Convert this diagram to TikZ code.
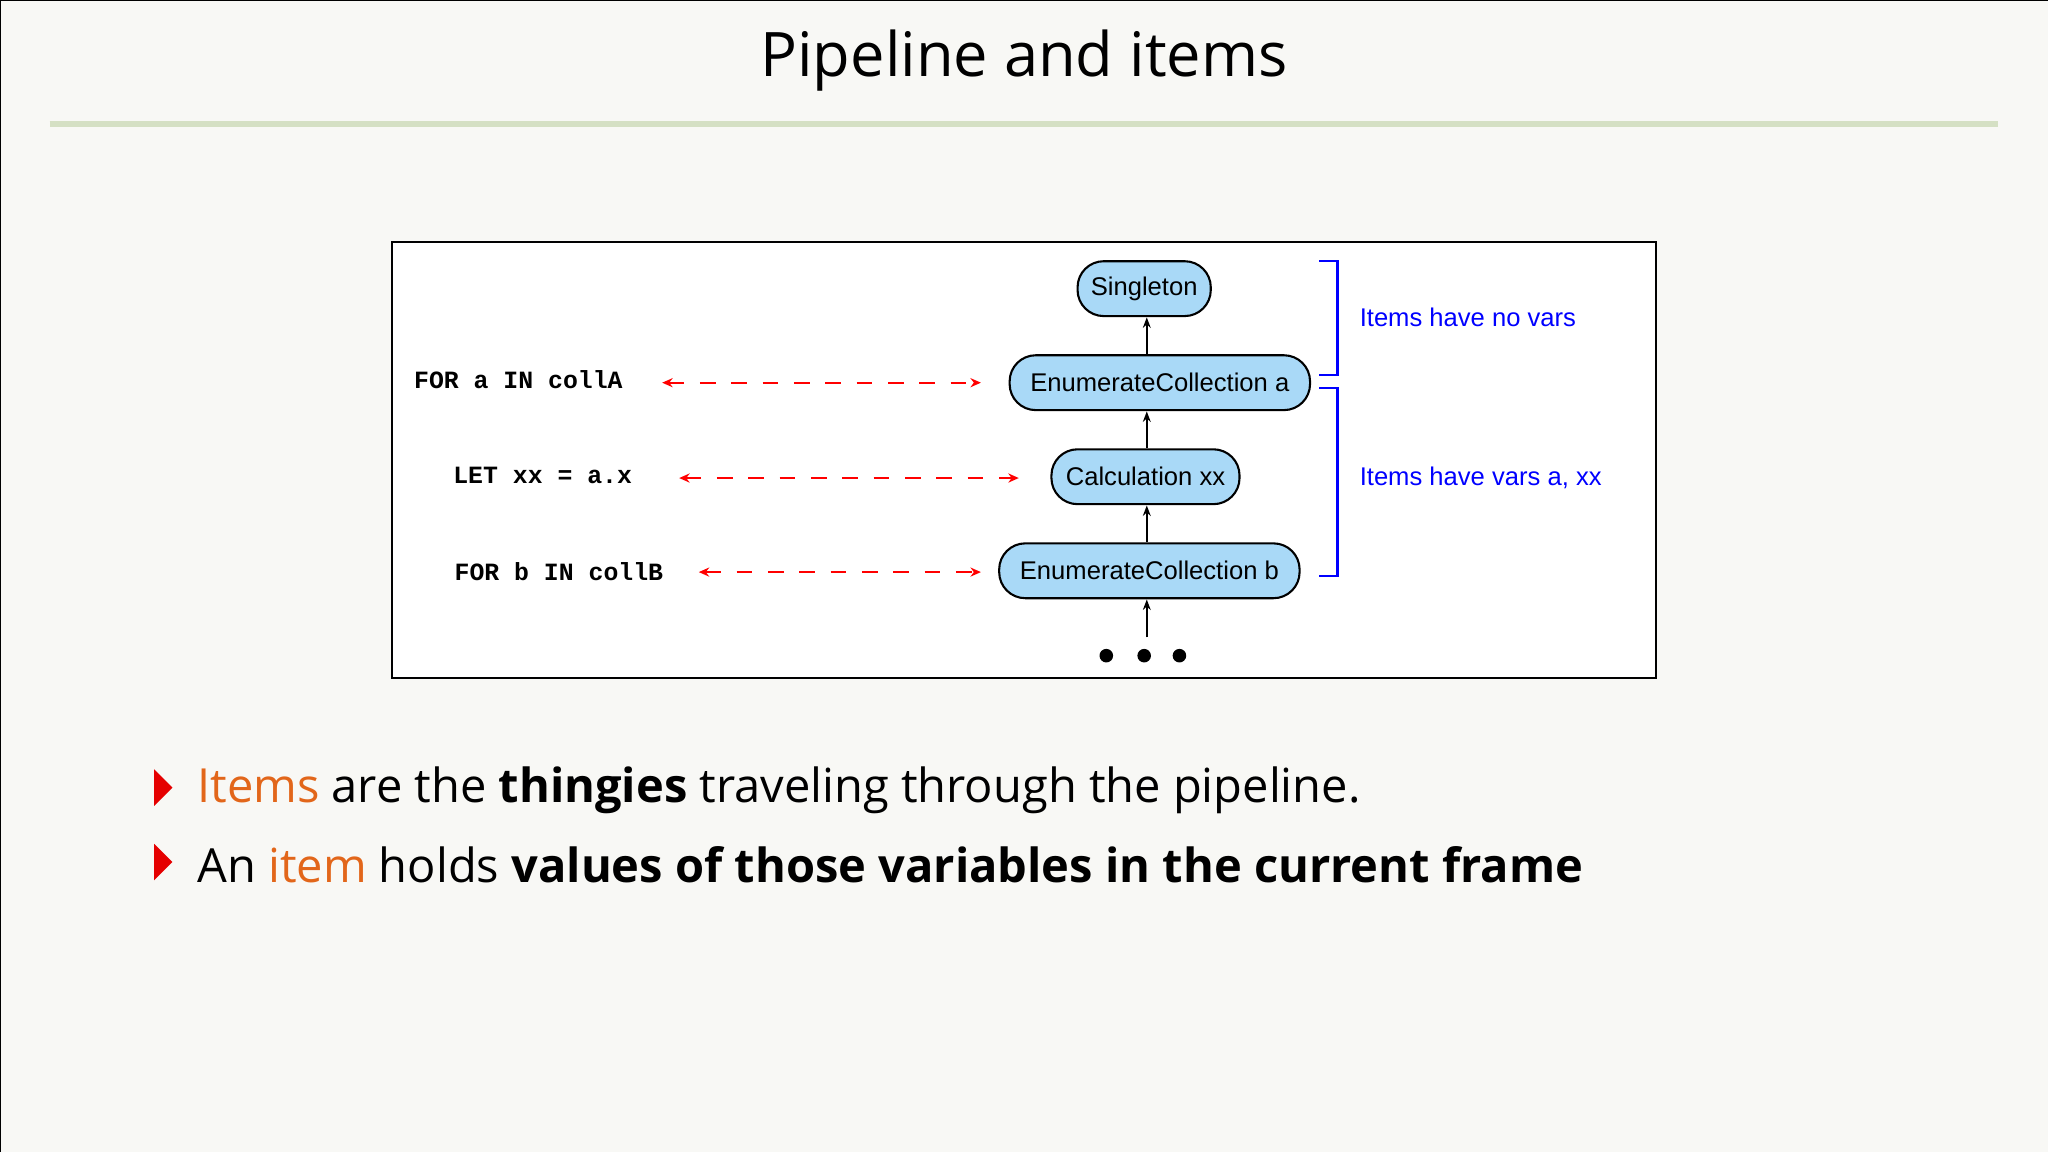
\documentclass[tikz,border=0pt]{standalone}
\usepackage{fontspec}
\setmainfont{Open Sans}
\newfontfamily\helv{Liberation Sans}
\newfontfamily\mono{Liberation Mono}
\usetikzlibrary{arrows.meta}
\definecolor{bg}{HTML}{F8F8F5}
\definecolor{nodeblue}{HTML}{A9D9F7}
\definecolor{orng}{HTML}{E2661A}
\begin{document}
\begin{tikzpicture}[x=0.5pt,y=-0.5pt,
  op/.style={draw,line width=0.8pt,rounded corners=10pt,fill=nodeblue,minimum height=21pt,inner sep=0pt,font=\helv\fontsize{9.8}{11}\selectfont},
  flow/.style={-{Stealth[length=4pt,width=3pt]},line width=0.7pt},
  link/.style={red,dashed,dash pattern=on 6pt off 6pt,line width=0.8pt,{Stealth[length=4pt,width=3.5pt]}-{Stealth[length=4pt,width=3.5pt]}},
  code/.style={anchor=west,font=\mono\bfseries\fontsize{9.5}{11}\selectfont},
  brk/.style={blue,line width=0.8pt},
  blab/.style={anchor=west,blue,font=\helv\fontsize{9.8}{11}\selectfont},
  bul/.style={anchor=west,font=\fontsize{18}{20}\selectfont}]
\useasboundingbox (0,0) rectangle (1568,882);
\fill[bg] (0,0) rectangle (1568,882);
\draw[line width=1pt] (0,882) -- (0,0) -- (1568,0);
\node (title) at (784,46) {\fontsize{23.5}{28}\selectfont Pipeline and items};
\draw[line width=2pt,color={rgb,255:red,213;green,224;blue,196}] (38,95) -- (1530,95);
\draw[line width=0.8pt,fill=white] (300,185) rectangle (1268,519);
\node[op,minimum width=51pt] (s) at (876,221) {Singleton};
\node[op,minimum width=115pt] (ea) at (888,293) {EnumerateCollection a};
\node[op,minimum width=72pt] (c) at (877,365) {Calculation xx};
\node[op,minimum width=115pt] (eb) at (880,437) {EnumerateCollection b};
\draw[flow] (878,271) -- (878,243);
\draw[flow] (878,343) -- (878,315);
\draw[flow] (878,415) -- (878,387);
\coordinate (dtop) at (878,488);
\draw[flow] (dtop) -- (878,459);
\foreach \x/\n in {847/d1,876/d2,903/d3} \fill (\x,502) circle (2.6pt);
\node[code] (ca) at (310,291) {FOR a IN collA};
\node[code] (cl) at (340,364) {LET xx = a.x};
\node[code] (cb) at (341,438) {FOR b IN collB};
\coordinate (la1) at (507,293); \coordinate (la2) at (751,293);
\coordinate (lb1) at (520,366); \coordinate (lb2) at (780,366);
\coordinate (lc1) at (535,438); \coordinate (lc2) at (751,438);
\draw[link] (la1) -- (la2);
\draw[link] (lb1) -- (lb2);
\draw[link] (lc1) -- (lc2);
\draw[brk] (1010,200) -- (1024,200) -- (1024,287) -- (1010,287);
\draw[brk] (1010,297) -- (1024,297) -- (1024,441) -- (1010,441);
\node[blab] (b1) at (1034,243) {Items have no vars};
\node[blab] (b2) at (1034,366) {Items have vars a, xx};
\fill[red!90!black] (118,589) -- (132,603) -- (118,617) -- cycle;
\fill[red!90!black] (118,646) -- (132,660) -- (118,674) -- cycle;
\node[bul] (t1) at (144,605) {\textcolor{orng}{Items} are the \textbf{thingies} traveling through the pipeline.};
\node[bul] (t2) at (144,662) {An \textcolor{orng}{item} holds \textbf{values of those variables in the current frame}};
\end{tikzpicture}
\end{document}
